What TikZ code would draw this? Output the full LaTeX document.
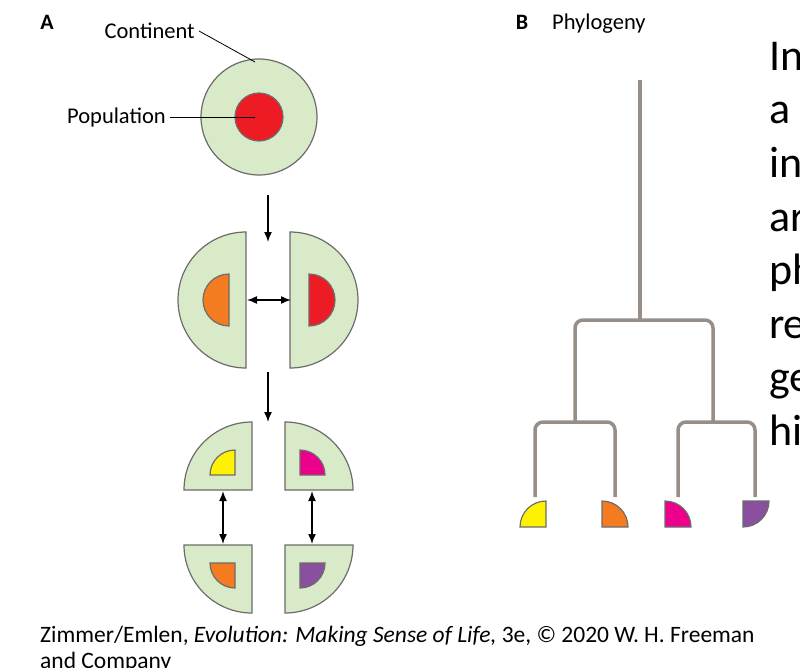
\documentclass[tikz,border=0pt]{standalone}
\usepackage{fontspec}
\usetikzlibrary{arrows.meta}
\setmainfont{Carlito}
\begin{document}
\begin{tikzpicture}[x=1pt,y=-1pt,
  pop/.style={draw=gray!85!black,line width=1.2pt},
  cont/.style={pop,fill=lgreen},
  tree/.style={draw=tgray,line width=3.5pt,rounded corners=8pt},
  arr/.style={-{Latex[length=10pt,width=8pt]},line width=1.5pt},
  darr/.style={{Latex[length=10pt,width=8pt]}-{Latex[length=10pt,width=8pt]},line width=1.5pt},
  lbl/.style={font=\fontsize{22.5}{26}\selectfont,inner sep=1pt},
  hd/.style={font=\bfseries\fontsize{22}{26}\selectfont,inner sep=0pt},
  big/.style={font=\fontsize{44}{50}\selectfont,anchor=base west,inner sep=0pt},
  captxt/.style={font=\fontsize{23.5}{28}\selectfont,anchor=base west,inner sep=0pt}]
\definecolor{lgreen}{HTML}{D9EAC8}
\definecolor{cred}{HTML}{ED1C24}
\definecolor{corange}{HTML}{F47B20}
\definecolor{cyellow}{HTML}{FFF200}
\definecolor{cmag}{HTML}{EC008C}
\definecolor{cpurp}{HTML}{8B4F9F}
\definecolor{tgray}{HTML}{968E87}
\path[use as bounding box] (0,0) rectangle (800,667);
\clip (0,0) rectangle (800,667);
% A
\node[hd] (A) at (47,22) {A};
\node[cont,circle,minimum size=116pt] (cont) at (259,117) {};
\node[pop,circle,fill=cred,minimum size=48pt] (popn) at (259,117) {};
\node[lbl,anchor=east] (ct) at (196,31) {Continent};
\node[lbl,anchor=east] (pt) at (167,117) {Population};
\coordinate (cend) at (255,62);
\coordinate (pend) at (255,117);
\draw[line width=0.8pt] ([xshift=3pt]ct.east) -- (cend);
\draw[line width=0.8pt] ([xshift=3pt]pt.east) -- (pend);
\coordinate (a1s) at (268,195); \coordinate (a1e) at (268,242);
\draw[arr] (a1s) -- (a1e);
% middle halves
\draw[cont] (246,232) arc[start angle=270,end angle=90,radius=68] -- cycle;
\draw[pop,fill=corange] (229,274) arc[start angle=270,end angle=90,radius=26] -- cycle;
\draw[cont] (290,232) arc[start angle=-90,end angle=90,radius=68] -- cycle;
\draw[pop,fill=cred] (309,274) arc[start angle=-90,end angle=90,radius=26] -- cycle;
\coordinate (h1) at (247,300); \coordinate (h2) at (291,300);
\draw[darr] (h1) -- (h2);
\coordinate (a2s) at (268,372); \coordinate (a2e) at (268,422);
\draw[arr] (a2s) -- (a2e);
% quarters
\draw[cont] (252,490) -- (252,422) arc[start angle=270,end angle=180,radius=68] -- cycle;
\draw[pop,fill=cyellow] (235,475) -- (235,450) arc[start angle=270,end angle=180,radius=25] -- cycle;
\draw[cont] (285,490) -- (285,422) arc[start angle=270,end angle=360,radius=68] -- cycle;
\draw[pop,fill=cmag] (300,475) -- (300,450) arc[start angle=270,end angle=360,radius=25] -- cycle;
\draw[cont] (252,545) -- (252,613) arc[start angle=90,end angle=180,radius=68] -- cycle;
\draw[pop,fill=corange] (235,563) -- (235,588) arc[start angle=90,end angle=180,radius=25] -- cycle;
\draw[cont] (285,545) -- (285,613) arc[start angle=90,end angle=0,radius=68] -- cycle;
\draw[pop,fill=cpurp] (300,563) -- (300,588) arc[start angle=90,end angle=0,radius=25] -- cycle;
\coordinate (v1) at (223,491); \coordinate (v2) at (223,544);
\coordinate (v3) at (312,491); \coordinate (v4) at (312,544);
\draw[darr] (v1) -- (v2);
\draw[darr] (v3) -- (v4);
% B
\node[hd] (B) at (522,22) {B};
\node[lbl,anchor=west] (ph) at (551,24) {Phylogeny};
\coordinate (root) at (640,80);
\coordinate (t1) at (535,497); \coordinate (t2) at (615,497);
\coordinate (t3) at (678,497); \coordinate (t4) at (755,497);
\draw[tree,rounded corners=0] (root) -- (640,322);
\draw[tree] (575,422) -- (575,320) -- (713,320) -- (713,422);
\draw[tree] (t1) -- (535,422) -- (615,422) -- (t2);
\draw[tree] (t3) -- (678,422) -- (755,422) -- (t4);
\draw[pop,fill=cyellow] (546,527) -- (546,501) arc[start angle=270,end angle=180,radius=26] -- cycle;
\draw[pop,fill=corange] (602,527) -- (602,501) arc[start angle=270,end angle=360,radius=26] -- cycle;
\draw[pop,fill=cmag] (665,527) -- (665,501) arc[start angle=270,end angle=360,radius=26] -- cycle;
\draw[pop,fill=cpurp] (743,527) -- (743,501) -- (769,501) arc[start angle=0,end angle=90,radius=26] -- cycle;
% right text
\foreach \t/\y in {In/70,a/123,in/177,ar/231,ph/284,re/338,ge/391,hi/445}
  \node[big] at (769,\y) {\t};
% caption
\node[captxt] (cap1) at (40,642) {Zimmer/Emlen, \textit{Evolution: Making Sense of Life,} 3e, © 2020 W. H. Freeman};
\node[captxt] (cap2) at (40,668) {and Company};
\end{tikzpicture}
\end{document}
